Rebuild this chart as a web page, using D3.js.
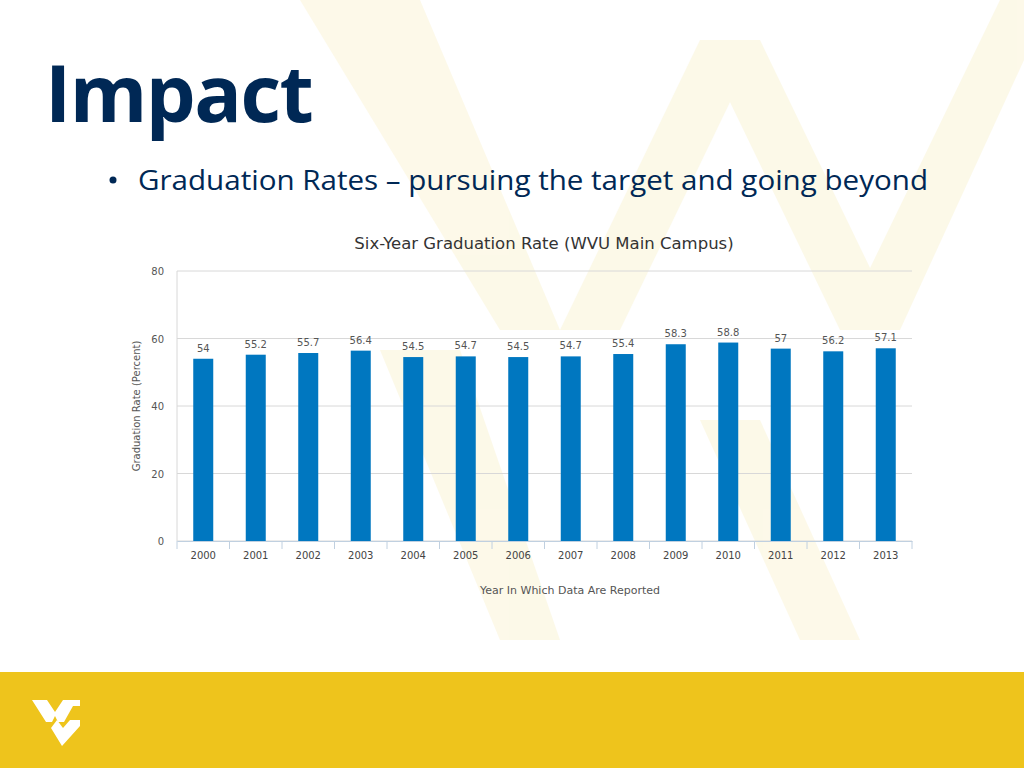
<!DOCTYPE html>
<html>
<head>
<meta charset="utf-8">
<script src="https://cdn.jsdelivr.net/npm/d3@7"></script>
<style>
  body { margin: 0; background: #fff; }
  svg { display: block; }
</style>
</head>
<body>
<script>
// values
var years = ["2000","2001","2002","2003","2004","2005","2006","2007","2008","2009","2010","2011","2012","2013"];
var rates = [54, 55.2, 55.7, 56.4, 54.5, 54.7, 54.5, 54.7, 55.4, 58.3, 58.8, 57, 56.2, 57.1];
var yTicks = [0, 20, 40, 60, 80];

var svg = d3.select("body").append("svg")
    .attr("width", 1024).attr("height", 768);

// faint background W shapes
var bg = svg.append("g").attr("fill", "#f6e9a8").attr("opacity", 0.25);
bg.append("path").attr("d", "M300,0 L420,0 L560,330 L500,330 Z");
bg.append("path").attr("d", "M560,330 L700,40 L760,40 L620,330 Z");
bg.append("path").attr("d", "M700,40 L840,330 L900,330 L760,40 Z");
bg.append("path").attr("d", "M840,330 L1000,0 L1024,0 L1024,60 L900,330 Z");
bg.append("path").attr("d", "M380,350 L460,350 L560,640 L500,640 Z");
bg.append("path").attr("d", "M700,420 L760,420 L860,640 L800,640 Z");

// footer band
svg.append("rect").attr("x", 0).attr("y", 672).attr("width", 1024).attr("height", 96)
    .attr("fill", "#eec41c");
// WV logo
var logo = svg.append("g").attr("fill", "#fff");
logo.append("path").attr("d", "M32,700 L47,700 L55,712 L63,700 L80,700 L80,706 L73,706 L64,722 L58,722 L55,716 L52,722 L46,722 Z");
logo.append("path").attr("d", "M51,728 L57,720 L63,728 L70,720 L80,720 L80,726 L62,746 Z");

// slide title
svg.append("text").attr("x", 45).attr("y", 122)
    .attr("font-family", "Open Sans").attr("font-weight", "bold").attr("font-size", 79)
    .attr("fill", "#002855").attr("letter-spacing", -1.5).text("Impact");
svg.append("circle").attr("cx", 113).attr("cy", 180).attr("r", 3.5).attr("fill", "#002855");
svg.append("text").attr("x", 138).attr("y", 190)
    .attr("font-family", "Open Sans").attr("font-size", 28)
    .attr("textLength", 790).attr("lengthAdjust", "spacingAndGlyphs")
    .attr("fill", "#002855").text("Graduation Rates \u2013 pursuing the target and going beyond");

// chart
var margin = {top: 271, left: 177},
    width = 735, height = 270;
var g = svg.append("g").attr("transform", "translate(" + margin.left + "," + margin.top + ")");

var x = d3.scaleBand().domain(years).range([0, width]);
var y = d3.scaleLinear().domain([0, 80]).range([height, 0]);

// gridlines
g.selectAll(".grid").data(yTicks).enter().append("line")
    .attr("x1", 0).attr("x2", width)
    .attr("y1", function(d) { return y(d); }).attr("y2", function(d) { return y(d); })
    .attr("stroke", "#d8d8d8");
g.append("line").attr("x1", 0).attr("x2", 0).attr("y1", 0).attr("y2", height).attr("stroke", "#d8d8d8");

g.selectAll(".ylab").data(yTicks).enter().append("text")
    .attr("x", -13).attr("y", function(d) { return y(d) + 4; })
    .attr("text-anchor", "end").attr("font-family", "DejaVu Sans").attr("font-size", 10)
    .attr("fill", "#555").text(function(d) { return d; });

// x axis
var xAxis = g.append("g").attr("transform", "translate(0," + height + ")")
    .call(d3.axisBottom(x).tickSize(0).tickPadding(11));
xAxis.select(".domain").attr("stroke", "#c0d0e0");
xAxis.selectAll("text").attr("font-family", "DejaVu Sans").attr("font-size", 10).attr("fill", "#444");
g.selectAll(".xtick").data(years.concat(["end"])).enter().append("line")
    .attr("x1", function(d, i) { return i * x.step(); })
    .attr("x2", function(d, i) { return i * x.step(); })
    .attr("y1", height).attr("y2", height + 8).attr("stroke", "#c0d0e0");

// bars
g.selectAll("rect.bar").data(rates).enter().append("rect")
    .attr("x", function(d, i) { return x(years[i]) + x.bandwidth() / 2 - 10; })
    .attr("y", function(d) { return y(d); })
    .attr("width", 20)
    .attr("height", function(d) { return height - y(d); })
    .attr("fill", "#0077c0");

g.selectAll(".vlab").data(rates).enter().append("text")
    .attr("x", function(d, i) { return x(years[i]) + x.bandwidth() / 2; })
    .attr("y", function(d) { return y(d) - 7; })
    .attr("text-anchor", "middle").attr("font-family", "DejaVu Sans").attr("font-size", 10)
    .attr("fill", "#555").text(function(d) { return d; });

svg.append("text").attr("x", 544).attr("y", 249).attr("text-anchor", "middle")
    .attr("font-family", "DejaVu Sans").attr("font-size", 16.5).attr("fill", "#333")
    .text("Six-Year Graduation Rate (WVU Main Campus)");
svg.append("text").attr("x", 570).attr("y", 594).attr("text-anchor", "middle")
    .attr("font-family", "DejaVu Sans").attr("font-size", 11).attr("fill", "#555")
    .text("Year In Which Data Are Reported");
svg.append("text").attr("transform", "translate(140,406) rotate(-90)").attr("text-anchor", "middle")
    .attr("font-family", "DejaVu Sans").attr("font-size", 10).attr("fill", "#555")
    .text("Graduation Rate (Percent)");
</script>
</body>
</html>
